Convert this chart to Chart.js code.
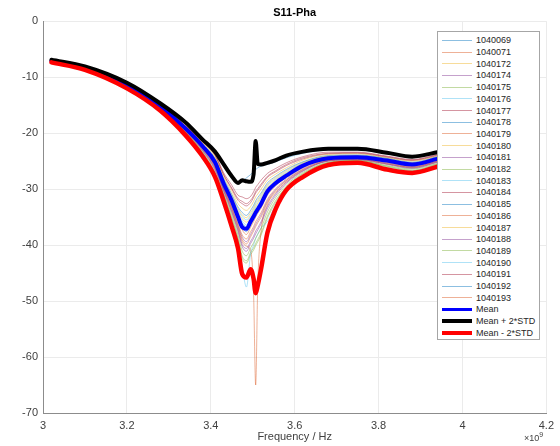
<!DOCTYPE html>
<html>
<head>
<meta charset="utf-8">
<title>S11-Pha</title>
<script src="https://cdn.jsdelivr.net/npm/chart.js@4.4.1/dist/chart.umd.min.js"></script>
<style>
    body { margin: 0; background: #fff; }
    #wrap { position: relative; width: 560px; height: 446px; background: #fff; }
    #legend {
        position: absolute; left: 437px; top: 31px; width: 101px; height: 307px;
        background: #fff; border: 1px solid #a6a6a6;
        font: 9px "Liberation Sans", Arial, sans-serif; color: #262626;
    }
    .row { position: absolute; left: 0; height: 10px; width: 100px; }
    .row .swatch { position: absolute; left: 4px; width: 30px; }
    .row .name { position: absolute; left: 38px; top: 0; line-height: 10px; white-space: nowrap; }
    #exponent {
        position: absolute; left: 524px; top: 431px;
        font: 9px "Liberation Sans", Arial, sans-serif; color: #404040;
    }
    #exponent sup { font-size: 7px; }
</style>
</head>
<body>
<div id="wrap">
    <canvas id="chart" width="560" height="446"></canvas>
    <div id="legend"></div>
    <div id="exponent">×10<sup>9</sup></div>
</div>
<script>
// frequency points (x10^9 Hz)
const freq = [3.02, 3.1, 3.2, 3.28, 3.34, 3.38, 3.41, 3.43, 3.45, 3.465, 3.475, 3.485, 3.495, 3.502, 3.507, 3.512, 3.52, 3.535, 3.555, 3.58, 3.62, 3.68, 3.75, 3.82, 3.88, 3.94, 4.0];

const xTicks = [3, 3.2, 3.4, 3.6, 3.8, 4, 4.2];
const yTicks = [0, -10, -20, -30, -40, -50, -60, -70];

// individual measurements
const v1040069 = [-7.0, -8.3, -11.3, -15.1, -19.0, -21.9, -24.5, -28.0, -30.9, -33.2, -34.2, -34.7, -33.8, -32.9, -32.1, -31.5, -30.7, -28.9, -27.7, -26.5, -25.1, -24.0, -23.9, -24.5, -25.2, -24.2, -23.1];
const v1040071 = [-7.1, -8.5, -11.5, -15.4, -19.4, -22.6, -25.8, -29.5, -33.1, -36.2, -38.2, -38.9, -37.6, -36.7, -35.8, -35.2, -34.2, -31.8, -29.9, -28.2, -26.2, -24.7, -24.5, -25.2, -25.9, -24.9, -23.7];
const v1040172 = [-7.1, -8.4, -11.4, -15.2, -19.1, -22.1, -24.8, -28.5, -31.5, -34.1, -35.3, -35.9, -34.9, -34.0, -33.1, -32.5, -31.6, -29.7, -28.3, -27.1, -25.4, -24.2, -24.1, -24.7, -25.4, -24.4, -23.3];
const v1040174 = [-7.2, -8.5, -11.6, -15.6, -19.6, -23.0, -26.4, -30.1, -34.0, -37.3, -39.9, -40.6, -39.3, -38.4, -37.5, -36.9, -35.8, -33.1, -30.8, -28.8, -26.7, -25.0, -24.7, -25.5, -26.2, -25.2, -23.9];
const v1040175 = [-7.2, -8.6, -11.6, -15.7, -19.8, -23.2, -26.9, -30.6, -34.6, -38.2, -41.1, -41.9, -40.5, -39.6, -38.8, -38.1, -37.0, -34.1, -31.5, -29.3, -27.0, -25.2, -24.9, -25.8, -26.4, -25.4, -24.1];
const v1040176 = [-7.3, -8.6, -11.7, -15.9, -20.0, -23.7, -27.6, -31.3, -35.7, -39.6, -44.0, -47.5, -41.5, -40.0, -38.8, -38.0, -36.9, -35.8, -32.7, -30.0, -27.6, -25.5, -25.1, -26.2, -26.8, -25.7, -24.4];
const v1040177 = [-7.0, -8.2, -11.2, -14.9, -18.7, -21.4, -23.6, -27.0, -29.3, -31.1, -31.4, -31.7, -31.3, -30.5, -29.7, -29.2, -28.4, -27.2, -26.3, -25.3, -24.2, -23.4, -23.4, -24.1, -24.7, -23.8, -22.7];
const v1040178 = [-7.1, -8.4, -11.4, -15.3, -19.2, -22.2, -25.1, -28.8, -32.0, -34.7, -36.1, -36.8, -35.6, -34.6, -33.8, -33.2, -32.3, -30.2, -28.7, -27.4, -25.7, -24.4, -24.2, -24.8, -25.5, -24.5, -23.4];
const v1040179 = [-7.1, -8.4, -11.4, -15.4, -19.3, -22.5, -25.5, -29.2, -32.6, -35.6, -37.3, -38.1, -36.8, -35.8, -35.0, -34.3, -33.4, -31.1, -29.4, -27.9, -26.0, -24.6, -24.4, -25.1, -25.8, -24.7, -23.6];
const v1040180 = [-7.0, -8.3, -11.3, -15.1, -18.9, -21.7, -24.2, -27.7, -30.4, -32.6, -33.4, -33.8, -33.1, -32.2, -31.4, -30.9, -30.0, -28.4, -27.3, -26.2, -24.8, -23.8, -23.7, -24.4, -25.0, -24.1, -23.0];
const v1040181 = [-7.2, -8.5, -11.5, -15.5, -19.5, -22.7, -26.0, -29.7, -33.3, -36.5, -38.6, -39.4, -38.1, -37.1, -36.3, -35.6, -34.6, -32.1, -30.1, -28.4, -26.4, -24.8, -24.6, -25.3, -26.0, -25.0, -23.8];
const v1040182 = [-7.2, -8.6, -11.7, -15.8, -19.8, -23.4, -27.2, -30.9, -35.1, -38.8, -42.0, -42.8, -41.3, -40.5, -39.7, -39.0, -37.8, -34.8, -32.0, -29.6, -27.2, -25.3, -24.9, -25.9, -26.6, -25.5, -24.2];
const v1040183 = [-7.1, -8.4, -11.3, -15.2, -19.0, -22.0, -24.7, -28.3, -31.3, -33.8, -34.9, -35.5, -34.6, -33.6, -32.7, -32.2, -31.3, -29.4, -28.1, -26.9, -25.3, -24.2, -24.0, -24.6, -25.3, -24.4, -23.3];
const v1040184 = [-7.0, -8.3, -11.3, -15.0, -18.8, -21.6, -24.0, -27.4, -30.0, -32.0, -32.6, -33.0, -32.4, -31.5, -30.7, -30.2, -29.4, -27.9, -26.9, -25.8, -24.6, -23.7, -23.6, -24.3, -24.9, -24.0, -22.9];
const v1040185 = [-7.1, -8.4, -11.4, -15.3, -19.3, -22.4, -25.4, -29.1, -32.4, -35.3, -36.9, -37.6, -36.4, -35.4, -34.5, -33.9, -33.0, -30.7, -29.1, -27.8, -25.9, -24.6, -24.4, -25.0, -25.7, -24.7, -23.6];
const v1040186 = [-7.2, -8.5, -11.5, -15.5, -19.6, -22.9, -26.3, -30.0, -33.7, -37.0, -39.4, -40.2, -41.0, -48.5, -65.0, -47.0, -37.5, -32.8, -30.6, -28.7, -26.6, -24.9, -24.7, -25.5, -26.1, -25.1, -23.9];
const v1040187 = [-7.1, -8.4, -11.3, -15.2, -19.0, -22.0, -24.6, -28.2, -31.1, -33.5, -34.6, -35.1, -34.2, -33.3, -32.4, -31.9, -31.0, -29.2, -27.9, -26.7, -25.2, -24.1, -24.0, -24.6, -25.3, -24.3, -23.2];
const v1040188 = [-7.2, -8.5, -11.6, -15.6, -19.7, -23.1, -26.6, -30.3, -34.2, -37.6, -40.3, -41.1, -39.7, -38.8, -38.0, -37.3, -36.2, -33.5, -31.1, -29.0, -26.8, -25.0, -24.8, -25.6, -26.3, -25.2, -24.0];
const v1040189 = [-7.2, -8.6, -11.7, -15.8, -19.9, -23.5, -27.3, -31.0, -35.3, -39.1, -42.4, -43.2, -41.7, -40.9, -40.1, -39.4, -38.2, -35.2, -32.3, -29.7, -27.3, -25.3, -25.0, -26.0, -26.7, -25.6, -24.3];
const v1040190 = [-7.1, -8.4, -11.4, -15.2, -19.1, -22.2, -25.0, -28.6, -31.8, -34.4, -35.7, -36.4, -35.3, -34.3, -33.4, -32.8, -32.0, -29.9, -28.5, -27.2, -25.6, -24.3, -24.2, -24.8, -25.5, -24.5, -23.4];
const v1040191 = [-7.0, -8.2, -11.2, -15.0, -18.8, -21.5, -23.9, -27.3, -29.8, -31.7, -32.2, -32.6, -32.0, -31.2, -30.4, -29.9, -29.1, -27.7, -26.7, -25.6, -24.4, -23.6, -23.5, -24.2, -24.8, -23.9, -22.8];
const v1040192 = [-6.9, -8.1, -11.0, -14.7, -18.2, -21.1, -23.3, -25.8, -28.0, -29.0, -28.6, -28.0, -27.4, -26.9, -26.5, -26.2, -25.9, -25.6, -25.1, -24.4, -23.6, -23.0, -23.0, -23.7, -24.3, -23.5, -22.4];
const v1040193 = [-7.2, -8.5, -11.5, -15.5, -19.5, -22.8, -26.1, -29.8, -33.5, -36.7, -39.0, -39.8, -38.5, -37.5, -36.7, -36.0, -35.0, -32.4, -30.3, -28.5, -26.5, -24.9, -24.6, -25.4, -26.1, -25.0, -23.8];

// statistics
const meanValues = [-7.1, -8.35, -11.4, -15.3, -19.2, -22.3, -25.2, -28.9, -32.1, -35.0, -36.8, -37.1, -35.8, -34.9, -34.2, -33.6, -32.6, -30.4, -28.9, -27.6, -25.8, -24.5, -24.3, -24.9, -25.6, -24.6, -23.5];
const plusValues = [-6.9, -8.1, -11.0, -14.7, -18.1, -21.1, -23.3, -25.5, -27.7, -28.9, -28.4, -28.6, -28.7, -27.4, -21.4, -25.5, -25.6, -25.3, -24.8, -24.0, -23.3, -22.8, -22.8, -23.5, -24.2, -23.4, -22.3];
const minusValues = [-7.35, -8.7, -12.0, -16.0, -20.4, -24.1, -27.8, -32.0, -36.7, -40.6, -45.2, -45.8, -44.3, -46.0, -48.6, -47.2, -44.2, -37.8, -33.5, -30.2, -27.8, -25.7, -25.3, -26.5, -27.1, -26.0, -24.6];

const seriesNames = ['1040069', '1040071', '1040172', '1040174', '1040175', '1040176', '1040177', '1040178',
    '1040179', '1040180', '1040181', '1040182', '1040183', '1040184', '1040185', '1040186', '1040187',
    '1040188', '1040189', '1040190', '1040191', '1040192', '1040193'];
const seriesValues = [v1040069, v1040071, v1040172, v1040174, v1040175, v1040176, v1040177, v1040178,
    v1040179, v1040180, v1040181, v1040182, v1040183, v1040184, v1040185, v1040186, v1040187,
    v1040188, v1040189, v1040190, v1040191, v1040192, v1040193];

// matlab default color order
const lineColors = ['0,114,189', '217,83,25', '237,177,32', '126,47,142', '119,172,48', '77,190,238', '162,20,47'];

const fontFamily = '"Liberation Sans", Arial, Helvetica, sans-serif';
const axisColor = '#404040';

function toPoints(values) {
    return freq.map((f, i) => ({ x: f, y: values[i] }));
}

const datasets = seriesNames.map((name, i) => ({
    label: name,
    data: toPoints(seriesValues[i]),
    borderColor: `rgba(${lineColors[i % lineColors.length]},0.45)`,
    borderWidth: 1,
    order: 10
}));

datasets.push(
    { label: 'Mean', data: toPoints(meanValues), borderColor: '#0000ff', borderWidth: 4, order: 3 },
    { label: 'Mean + 2*STD', data: toPoints(plusValues), borderColor: '#000000', borderWidth: 4, order: 2 },
    { label: 'Mean - 2*STD', data: toPoints(minusValues), borderColor: '#ff0000', borderWidth: 4.5, order: 1 }
);

const chart = new Chart(document.getElementById('chart'), {
    type: 'line',
    data: { datasets: datasets },
    options: {
        responsive: false,
        animation: false,
        devicePixelRatio: 1,
        layout: { padding: { left: 0, right: 12, top: 0, bottom: 0 } },
        elements: {
            point: { radius: 0 },
            line: { cubicInterpolationMode: 'monotone', borderCapStyle: 'round', borderJoinStyle: 'round' }
        },
        plugins: {
            legend: { display: false },
            tooltip: { enabled: false },
            title: {
                display: true,
                text: 'S11-Pha',
                fullSize: false,
                color: '#000',
                font: { family: fontFamily, size: 11, weight: 'bold' },
                padding: { top: 6, bottom: 2 }
            }
        },
        scales: {
            x: {
                type: 'linear',
                min: xTicks[0],
                max: xTicks[xTicks.length - 1],
                afterFit: scale => { scale.height = 33; },
                afterBuildTicks: scale => { scale.ticks = xTicks.map(v => ({ value: v })); },
                ticks: {
                    color: axisColor,
                    font: { family: fontFamily, size: 11 },
                    padding: 6,
                    maxRotation: 0,
                    callback: v => String(v)
                },
                grid: { color: '#ebebeb', drawTicks: false },
                border: { color: '#8c8c8c', width: 1 },
                title: {
                    display: true,
                    text: 'Frequency / Hz',
                    color: axisColor,
                    font: { family: fontFamily, size: 11 },
                    padding: { top: 0, bottom: 2 }
                }
            },
            y: {
                type: 'linear',
                min: yTicks[yTicks.length - 1],
                max: yTicks[0],
                afterFit: scale => { scale.width = 43; },
                afterBuildTicks: scale => { scale.ticks = yTicks.map(v => ({ value: v })); },
                ticks: {
                    color: axisColor,
                    font: { family: fontFamily, size: 11 },
                    padding: 5
                },
                grid: { color: '#ebebeb', drawTicks: false },
                border: { color: '#8c8c8c', width: 1 }
            }
        }
    }
});

// legend box drawn as html over the top right of the plot
const legendEl = document.getElementById('legend');
chart.data.datasets.forEach((ds, i) => {
    const row = document.createElement('div');
    row.className = 'row';
    row.style.top = (3.3 + i * 11.7) + 'px';
    const lw = Math.min(ds.borderWidth, 3.5);
    row.innerHTML = `
        <div class="swatch" style="top:${5 - lw / 2}px;height:${lw}px;background:${ds.borderColor}"></div>
        <div class="name">${ds.label}</div>
    `;
    legendEl.appendChild(row);
});
</script>
</body>
</html>
